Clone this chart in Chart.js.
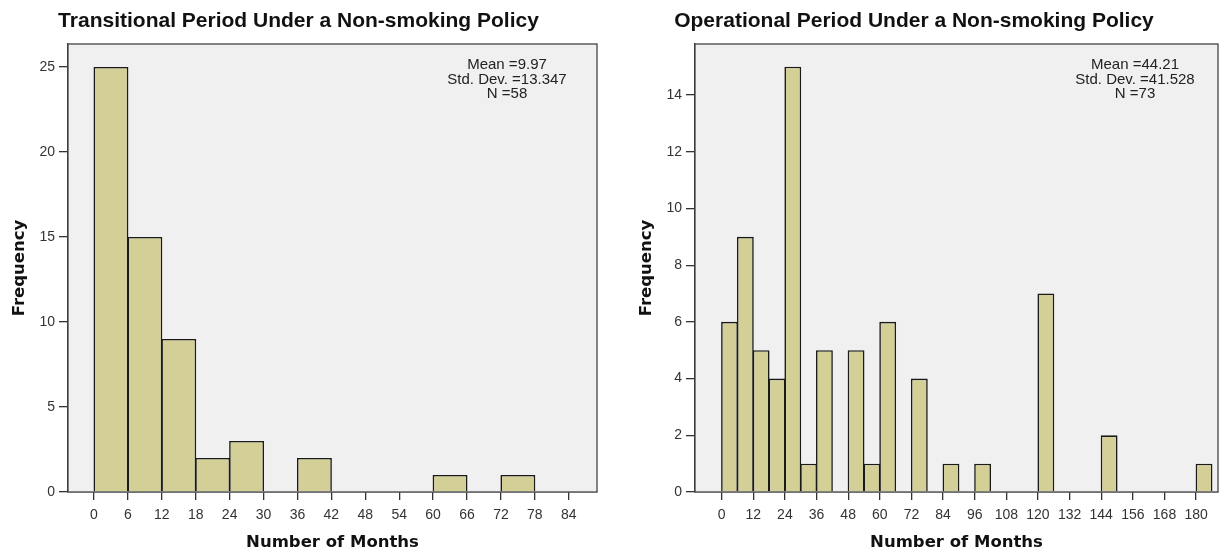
<!DOCTYPE html>
<html>
<head>
<meta charset="utf-8">
<script src="https://cdn.jsdelivr.net/npm/chart.js@4.4.0/dist/chart.umd.min.js"></script>
<style>
  html, body { margin: 0; padding: 0; background: #fff; overflow: hidden; }
  .box { position: absolute; top: 0; height: 554px; }
  #left_box { left: 0; width: 602px; }
  #right_box { left: 610px; width: 634px; }
</style>
</head>
<body>
<div class="box" id="left_box"><canvas id="left_chart"></canvas></div>
<div class="box" id="right_box"><canvas id="right_chart"></canvas></div>
<script>
// histogram bins are 6 months wide, each value is the start of a bin
const binWidth = 6;

const transBins = [0, 6, 12, 18, 24, 30, 36, 42, 48, 54, 60, 66, 72, 78];
const transCounts = [25, 15, 9, 2, 3, 0, 2, 0, 0, 0, 1, 0, 1, 0];
const transXTicks = [0, 6, 12, 18, 24, 30, 36, 42, 48, 54, 60, 66, 72, 78, 84];
const transYTicks = [0, 5, 10, 15, 20, 25];
const transStats = ["Mean =9.97", "Std. Dev. =13.347", "N =58"];

const operBins = [0, 6, 12, 18, 24, 30, 36, 42, 48, 54, 60, 66, 72, 78, 84, 90,
  96, 102, 108, 114, 120, 126, 132, 138, 144, 150, 156, 162, 168, 174, 180];
const operCounts = [6, 9, 5, 4, 15, 1, 5, 0, 5, 1, 6, 0, 4, 0, 1, 0,
  1, 0, 0, 0, 7, 0, 0, 0, 2, 0, 0, 0, 0, 0, 1];
const operXTicks = [0, 12, 24, 36, 48, 60, 72, 84, 96, 108, 120, 132, 144, 156, 168, 180];
const operYTicks = [0, 2, 4, 6, 8, 10, 12, 14];
const operStats = ["Mean =44.21", "Std. Dev. =41.528", "N =73"];

Chart.defaults.font.family = "'Liberation Sans', Arial, sans-serif";
Chart.defaults.color = "#333";

// grey plot background, frame and the stats text in the corner
const plotFrame = {
  id: "plotFrame",
  beforeDatasetsDraw(chart) {
    const a = chart.chartArea;
    const ctx = chart.ctx;
    ctx.save();
    ctx.fillStyle = "#f0f0f0";
    ctx.fillRect(a.left, a.top, a.right - a.left, a.bottom - a.top);
    ctx.restore();
  },
  afterDraw(chart, args, opts) {
    const a = chart.chartArea;
    const ctx = chart.ctx;
    ctx.save();
    ctx.strokeStyle = "#444";
    ctx.lineWidth = 1.3;
    ctx.strokeRect(a.left, a.top, a.right - a.left, a.bottom - a.top);
    ctx.fillStyle = "#222";
    ctx.font = "15px 'Liberation Sans', Arial, sans-serif";
    ctx.textAlign = "center";
    ctx.textBaseline = "alphabetic";
    const lines = opts.lines || [];
    for (let i = 0; i < lines.length; i++) {
      ctx.fillText(lines[i], a.right - opts.dx, a.top + 25 + i * 14.5);
    }
    ctx.restore();
  }
};

function makeHistogram(id, title, bins, counts, xTicks, yTicks, xMin, xMax, yMax, yWidth, padRight, yTitlePad, barPct, stats, statsDx) {
  const points = [];
  for (let i = 0; i < bins.length; i++) {
    points.push({ x: bins[i] + binWidth / 2, y: counts[i] });
  }

  new Chart(document.getElementById(id), {
    type: "bar",
    data: {
      datasets: [{
        label: "Frequency",
        data: points,
        backgroundColor: "#d4cf96",
        borderColor: "#1a1a1a",
        borderWidth: 1.6,
        barPercentage: barPct,
        categoryPercentage: 1,
        inflateAmount: 0
      }]
    },
    plugins: [plotFrame],
    options: {
      responsive: true,
      maintainAspectRatio: false,
      animation: false,
      layout: { padding: { left: 0, right: padRight, top: 0, bottom: 0 } },
      plugins: {
        legend: { display: false },
        tooltip: { enabled: false },
        title: {
          display: true,
          text: title,
          color: "#111",
          font: { size: 21, weight: "bold" },
          padding: { top: 9, bottom: 9.8 }
        },
        plotFrame: { lines: stats, dx: statsDx }
      },
      scales: {
        x: {
          type: "linear",
          min: xMin,
          max: xMax,
          offset: false,
          afterBuildTicks: (axis) => { axis.ticks = xTicks.map(v => ({ value: v })); },
          afterFit: (axis) => { axis.height = 62; },
          ticks: { autoSkip: false, maxRotation: 0, padding: 7, font: { size: 14 }, color: "#333" },
          grid: { display: true, offset: false, drawOnChartArea: false, drawTicks: true, tickLength: 8, color: "#333", lineWidth: 1.3 },
          border: { display: true, color: "#333", width: 1.3 },
          title: {
            display: true,
            text: "Number of Months",
            color: "#111",
            font: { family: "'DejaVu Sans', Verdana, sans-serif", size: 16.5, weight: "bold" },
            padding: { top: 2, bottom: 1 }
          }
        },
        y: {
          min: 0,
          max: yMax,
          afterBuildTicks: (axis) => { axis.ticks = yTicks.map(v => ({ value: v })); },
          afterFit: (axis) => { axis.width = yWidth; },
          ticks: { padding: 4, font: { size: 14 }, color: "#333" },
          grid: { display: true, drawOnChartArea: false, drawTicks: true, tickLength: 9, color: "#333", lineWidth: 1.3 },
          border: { display: true, color: "#333", width: 1.3 },
          title: {
            display: true,
            text: "Frequency",
            color: "#111",
            font: { family: "'DejaVu Sans', Verdana, sans-serif", size: 16.5, weight: "bold" },
            padding: { top: yTitlePad, bottom: 0 }
          }
        }
      }
    }
  });
}

makeHistogram("left_chart", "Transitional Period Under a Non-smoking Policy",
  transBins, transCounts, transXTicks, transYTicks, -4.6, 89, 26.35, 68, 5, 10, 1.03, transStats, 90);

makeHistogram("right_chart", "Operational Period Under a Non-smoking Policy",
  operBins, operCounts, operXTicks, operYTicks, -10.1, 188.3, 15.8, 85, 26, 27, 1.065, operStats, 83);
</script>
</body>
</html>
